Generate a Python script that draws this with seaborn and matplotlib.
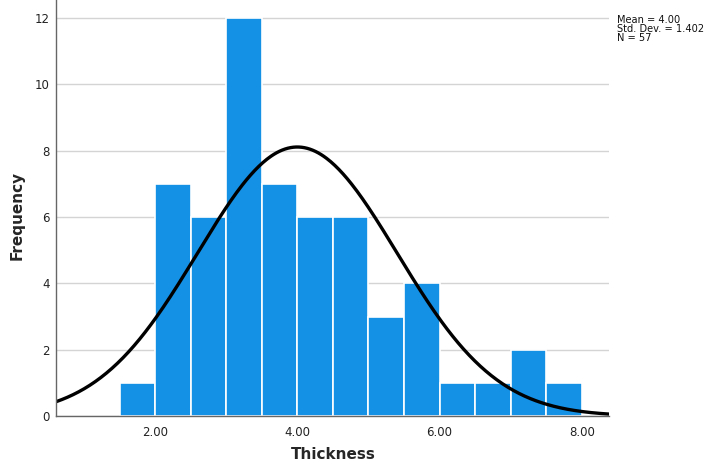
import numpy as np
import pandas as pd
import matplotlib
matplotlib.use("Agg")
import matplotlib.pyplot as plt
import seaborn as sns

# Histogram of thickness (bin width 0.5)
bin_edges = [1.5, 2.0, 2.5, 3.0, 3.5, 4.0, 4.5, 5.0, 5.5, 6.0, 6.5, 7.0, 7.5, 8.0]
counts = [1, 7, 6, 12, 7, 6, 6, 3, 4, 1, 1, 2, 1]
mean_val = 4.00
std_val = 1.402
n_obs = 57
x_ticks = [2.0, 4.0, 6.0, 8.0]
y_ticks = [0, 2, 4, 6, 8, 10, 12]

sns.set_theme(style="white")
plt.rcParams["font.family"] = ["DejaVu Sans"]

centers = [(a + b) / 2 for a, b in zip(bin_edges[:-1], bin_edges[1:])]
df = pd.DataFrame({"Thickness": centers, "count": counts})

fig = plt.figure(figsize=(7.08, 4.67), dpi=100)
ax = fig.add_axes([0.0798, 0.109, 0.7805, 0.891])

ax.set_axisbelow(True)
ax.yaxis.grid(True, color="#d4d4d4", linewidth=1.0)
ax.xaxis.grid(False)

sns.histplot(data=df, x="Thickness", weights="count", bins=bin_edges,
             color="#1490E4", edgecolor="white", linewidth=1.2, alpha=1.0, ax=ax)

xmin, xmax = 0.613, 8.385
xs = np.linspace(xmin, xmax, 400)
bw = bin_edges[1] - bin_edges[0]
ys = n_obs * bw * np.exp(-0.5 * ((xs - mean_val) / std_val) ** 2) / (std_val * np.sqrt(2 * np.pi))
sns.lineplot(x=xs, y=ys, color="black", linewidth=2.4, ax=ax)

ax.set_xlim(xmin, xmax)
ax.set_ylim(0, 12.54)
ax.set_xticks(x_ticks)
ax.set_xticklabels([f"{t:.2f}" for t in x_ticks], fontsize=8.5, color="#222222")
ax.set_yticks(y_ticks)
ax.set_yticklabels([str(t) for t in y_ticks], fontsize=8.5, color="#222222")
ax.tick_params(axis="x", length=0, pad=7)
ax.tick_params(axis="y", length=0, pad=5)

ax.set_xlabel("Thickness", fontsize=11, fontweight="bold")
ax.set_ylabel("Frequency", fontsize=11, fontweight="bold")
ax.xaxis.set_label_coords((333 - 56.5) / (609 - 56.5), -(447 - 416) / 416)
ax.yaxis.set_label_coords(-(56.5 - 25) / (609 - 56.5), (416 - 215) / 416)

for side in ["top", "right"]:
    ax.spines[side].set_visible(False)
for side in ["left", "bottom"]:
    ax.spines[side].set_color("#666666")
    ax.spines[side].set_linewidth(1.0)

fig.text(0.871, 0.968, f"Mean = {mean_val:.2f}\nStd. Dev. = {std_val:.3f}\nN = {n_obs}",
         fontsize=7.1, va="top", ha="left", linespacing=0.9, color="#111111")

fig.savefig("out.png", dpi=100)
